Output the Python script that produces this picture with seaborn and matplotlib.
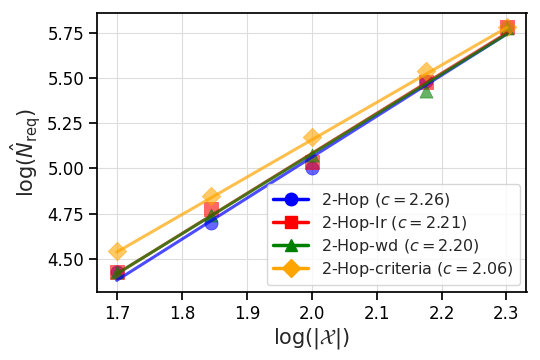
import numpy as np
import pandas as pd
import matplotlib
matplotlib.use("Agg")
import matplotlib.pyplot as plt
import seaborn as sns
from matplotlib.lines import Line2D

# data
log_x = [1.699, 1.845, 2.0, 2.176, 2.301]
hop = [4.43, 4.70, 5.00, 5.48, 5.78]
hop_lr = [4.43, 4.775, 5.035, 5.475, 5.78]
hop_wd = [4.43, 4.745, 5.075, 5.43, 5.775]
hop_criteria = [4.545, 4.845, 5.175, 5.54, 5.78]

names = ["2-Hop", "2-Hop-lr", "2-Hop-wd", "2-Hop-criteria"]
slopes = [2.26, 2.21, 2.20, 2.06]
intercepts = [0.542, 0.663, 0.680, 1.038]
colors = ["blue", "red", "green", "orange"]
markers = ["o", "s", "^", "D"]

df = pd.DataFrame({
    "x": log_x * 4,
    "y": hop + hop_lr + hop_wd + hop_criteria,
    "run": [n for n in names for _ in log_x],
})

sns.set_theme(style="ticks")
plt.rcParams["font.family"] = ["DejaVu Sans"]
plt.rcParams["mathtext.fontset"] = "dejavusans"

fig, ax = plt.subplots(figsize=(5.4, 3.6), dpi=100)

for name, c, b, col, m in zip(names, slopes, intercepts, colors, markers):
    sub = df[df["run"] == name]
    sns.scatterplot(data=sub, x="x", y="y", color=col, marker=m, s=90,
                    alpha=0.6, edgecolor=col, linewidth=0.5, ax=ax, legend=False)
    xs = np.array([min(log_x), max(log_x)])
    ax.plot(xs, c * xs + b, color=col, lw=2.2, alpha=0.7)

handles = [Line2D([0], [0], color=col, marker=m, lw=2.5, markersize=9,
                  label=rf"{n} ($c={c:.2f}$)")
           for n, c, col, m in zip(names, slopes, colors, markers)]
ax.legend(handles=handles, loc="lower right", fontsize=11.5, framealpha=0.8,
          handlelength=2.2, labelspacing=0.25, borderaxespad=0.4)

ax.grid(True, color="#dddddd", lw=0.8)
ax.set_axisbelow(True)
ax.set_xticks([1.7, 1.8, 1.9, 2.0, 2.1, 2.2, 2.3])
ax.set_yticks([4.50, 4.75, 5.00, 5.25, 5.50, 5.75])
ax.set_ylim(4.32, 5.86)
ax.tick_params(labelsize=12, colors="black")
for s in ax.spines.values():
    s.set_color("black")
ax.set_xlabel(r"$\log(|\mathcal{X}|)$", fontsize=15, labelpad=2)
ax.set_ylabel(r"$\log(\hat{N}_{\rm req})$", fontsize=15, labelpad=3)

plt.subplots_adjust(left=0.18, right=0.975, top=0.965, bottom=0.19)
plt.savefig("out.png", dpi=100)
